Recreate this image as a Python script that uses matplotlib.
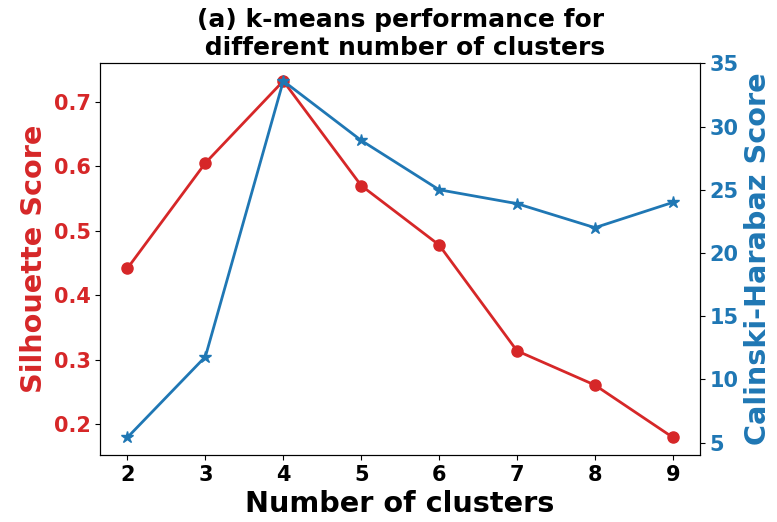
import matplotlib
matplotlib.use("Agg")
import matplotlib.pyplot as plt

# data
n_clusters = [2, 3, 4, 5, 6, 7, 8, 9]
silhouette = [0.442, 0.605, 0.732, 0.570, 0.478, 0.314, 0.261, 0.180]
calinski = [5.42, 11.8, 33.6, 28.9, 25.0, 23.9, 22.0, 24.0]

RED = "tab:red"
BLUE = "tab:blue"

fig, ax = plt.subplots(figsize=(7.77, 5.22), dpi=100)
fig.subplots_adjust(left=0.129, right=0.901, top=0.879, bottom=0.128)

ax.plot(n_clusters, silhouette, color=RED, marker="o", markersize=8, linewidth=2)
ax.set_xlabel("Number of clusters", fontsize=20.7, fontweight="bold")
ax.set_ylabel("Silhouette Score", fontsize=20.7, fontweight="bold", color=RED)
ax.tick_params(axis="y", labelcolor=RED, labelsize=15)
ax.tick_params(axis="x", labelsize=15)
for lab in ax.get_xticklabels() + ax.get_yticklabels():
    lab.set_fontweight("bold")

ax2 = ax.twinx()
ax2.plot(n_clusters, calinski, color=BLUE, marker="*", markersize=9, linewidth=2)
ax2.set_ylabel("Calinski-Harabaz Score", fontsize=20.7, fontweight="bold", color=BLUE)
ax2.tick_params(axis="y", labelcolor=BLUE, labelsize=15)
for lab in ax2.get_yticklabels():
    lab.set_fontweight("bold")

ax.set_title("(a) k-means performance for\n different number of clusters",
             fontsize=18, fontweight="bold")

fig.savefig("out.png", dpi=100)
